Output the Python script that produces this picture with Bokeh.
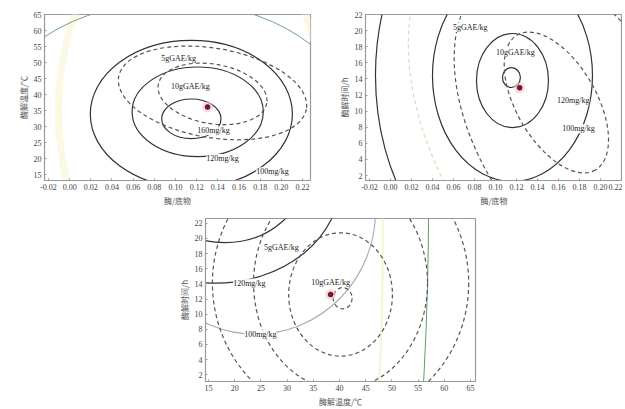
from bokeh.plotting import figure
from bokeh.models import ColumnDataSource, FixedTicker, Label, Range1d
from bokeh.layouts import column, row, Spacer
from bokeh.core.properties import value
from bokeh.embed import file_html
from bokeh.resources import INLINE

# ---------------- data: panel a (enzyme/substrate vs temperature) ----------------
A_X_TICKS = [-0.02, 0.00, 0.02, 0.04, 0.06, 0.08, 0.10, 0.12, 0.14, 0.16, 0.18, 0.20, 0.22]
A_Y_TICKS = [15, 20, 25, 30, 35, 40, 45, 50, 55, 60, 65]
A_MG_X = [0.115, 0.121, 0.115]
A_MG_Y = [32.4, 34.6, 33.9]
A_MG_W = [0.056, 0.124, 0.191]
A_MG_H = [12.4, 28.0, 46.0]
A_GAE_X = [0.135, 0.135]
A_GAE_Y = [40.2, 40.5]
A_GAE_W = [0.104, 0.180]
A_GAE_H = [18.6, 27.9]
A_GAE_ANG = [-0.17, -0.17]
A_GREEN_X = [0.097]
A_GREEN_Y = [31.8]
A_GREEN_W = [0.340]
A_GREEN_H = [74.5]
A_YEL_X = [0.114]
A_YEL_Y = [34.9]
A_YEL_W = [0.2495]
A_YEL_H = [124.0]
A_LABELS = ["5gGAE/kg", "10gGAE/kg", "160mg/kg", "120mg/kg", "100mg/kg"]
A_LAB_X = [0.1029, 0.114, 0.136, 0.1445, 0.1917]
A_LAB_Y = [51.3, 42.6, 28.7, 20.0, 15.9]
A_OPT_X = [0.1303]
A_OPT_Y = [36.1]

# ---------------- data: panel b (enzyme/substrate vs time) ----------------
B_X_TICKS = [-0.02, 0.00, 0.02, 0.04, 0.06, 0.08, 0.10, 0.12, 0.14, 0.16, 0.18, 0.20, 0.22]
B_Y_TICKS = [2, 4, 6, 8, 10, 12, 14, 16, 18, 20, 22]
B_MG_X = [0.1152, 0.1162, 0.1162, 0.1162]
B_MG_Y = [14.17, 13.8, 14.42, 14.42]
B_MG_W = [0.0171, 0.0686, 0.1524, 0.261]
B_MG_H = [2.48, 11.68, 26.3, 49.7]
B_GAE_X = [0.158, 0.1762]
B_GAE_Y = [11.07, 8.21]
B_GAE_W = [0.1486, 0.3238]
B_GAE_H = [9.94, 24.84]
B_GAE_ANG = [-1.047, -1.047]
B_PALE_X = [0.1762]
B_PALE_Y = [7.59]
B_PALE_W = [0.438]
B_PALE_H = [34.8]
B_PALE_ANG = [-1.047]
B_LABELS = ["5gGAE/kg", "10gGAE/kg", "120mg/kg", "100mg/kg"]
B_LAB_X = [0.076, 0.119, 0.174, 0.179]
B_LAB_Y = [20.4, 17.3, 11.3, 7.8]
B_OPT_X = [0.123]
B_OPT_Y = [12.9]

# ---------------- data: panel c (temperature vs time) ----------------
C_X_TICKS = [15, 20, 25, 30, 35, 40, 45, 50, 55, 60, 65]
C_Y_TICKS = [2, 4, 6, 8, 10, 12, 14, 16, 18, 20, 22]
C_MG_X = [40.6, 40.2, 40.2, 40.2]
C_MG_Y = [12.1, 12.6, 14.1, 14.1]
C_MG_W = [3.6, 19.8, 33.2, 48.9]
C_MG_H = [2.8, 16.3, 28.0, 35.7]
C_GAE_X = [18.2, 16.3]
C_GAE_Y = [28.75, 27.5]
C_GAE_W = [30.5, 47.7]
C_GAE_H = [18.6, 26.8]
C_GRAY_X = [23.97]
C_GRAY_Y = [23.66]
C_GRAY_W = [45.8]
C_GRAY_H = [32.6]
C_GREEN_X = [13.5]
C_GREEN_Y = [24.9]
C_GREEN_W = [87.0]
C_GREEN_H = [229.0]
C_YEL_X = [13.5]
C_YEL_Y = [18.6]
C_YEL_W = [69.5]
C_YEL_H = [178.0]
C_LABELS = ["5gGAE/kg", "10gGAE/kg", "120mg/kg", "100mg/kg"]
C_LAB_X = [28.9, 38.3, 22.8, 24.9]
C_LAB_Y = [18.8, 14.2, 14.1, 7.35]
C_OPT_X = [38.3]
C_OPT_Y = [12.6]

SERIF = "Liberation Serif"
CJK = "Noto Sans CJK SC"
DARK = "#333333"
DASH = "#555555"


def make_fig(w, h, xr, yr, bl, br, bt, bb, xticks, yticks, xfmt, xlabel, ylabel):
    p = figure(width=w, height=h, x_range=Range1d(*xr), y_range=Range1d(*yr),
               output_backend="svg", toolbar_location=None,
               min_border_left=bl, min_border_right=br, min_border_top=bt, min_border_bottom=bb)
    p.xgrid.visible = False
    p.ygrid.visible = False
    p.outline_line_color = "#9a9a9a"
    p.outline_line_width = 1.2
    p.background_fill_color = "white"
    p.xaxis.ticker = FixedTicker(ticks=xticks)
    p.yaxis.ticker = FixedTicker(ticks=yticks)
    p.xaxis.major_label_overrides = {t: xfmt(t) for t in xticks}
    p.yaxis.major_label_overrides = {t: str(t) for t in yticks}
    for ax in (p.xaxis[0], p.yaxis[0]):
        ax.axis_line_color = "#9a9a9a"
        ax.major_tick_line_color = "#9a9a9a"
        ax.major_tick_in = 2
        ax.major_tick_out = 0
        ax.minor_tick_line_color = None
        ax.major_label_text_font = SERIF
        ax.major_label_text_font_size = "8px"
        ax.major_label_text_color = "#444444"
        ax.major_label_standoff = 3
        ax.axis_label_text_font = CJK
        ax.axis_label_text_font_size = "8px"
        ax.axis_label_text_font_style = "normal"
        ax.axis_label_text_color = "#555555"
        ax.axis_label_standoff = 2
    p.xaxis.axis_label = xlabel
    p.yaxis.axis_label = ylabel
    return p


def ell(p, xs, ys, ws, hs, angles=None, color=DARK, dash="solid", width=1.1, alpha=1.0):
    if angles is None:
        angles = [0.0] * len(xs)
    src = ColumnDataSource(dict(x=xs, y=ys, w=ws, h=hs, a=angles))
    p.ellipse(x="x", y="y", width="w", height="h", angle="a", source=src,
              fill_color=None, line_color=color, line_dash=dash, line_width=width, line_alpha=alpha)


def labels(p, xs, ys, texts):
    src = ColumnDataSource(dict(x=xs, y=ys, t=texts))
    p.text(x="x", y="y", text="t", source=src, text_font=value(SERIF), text_font_size="8px",
           text_color="#222222", text_align="center", text_baseline="middle",
           background_fill_color="white", background_fill_alpha=0.9)


def optimum(p, xs, ys):
    p.scatter(xs, ys, size=11, fill_color="#f7c3cf", line_color=None, fill_alpha=0.6)
    p.scatter(xs, ys, size=5, fill_color="#7a1526", line_color="#3a0a12", line_width=0.5)


fmt2 = lambda t: "%.2f" % t
fmtint = lambda t: str(t)

# ---------------- panel a ----------------
pa = make_fig(322, 210, (-0.02378, 0.2276), (13.14, 65.0), 44, 12, 13, 30,
              A_X_TICKS, A_Y_TICKS, fmt2, "酶/底物", "酶解温度/℃")
ell(pa, A_YEL_X, A_YEL_Y, A_YEL_W, A_YEL_H, color="#faf6dc", width=7, alpha=0.8)
ell(pa, A_GREEN_X, A_GREEN_Y, A_GREEN_W, A_GREEN_H, color="#6f9f86", width=1.0)
ell(pa, A_MG_X, A_MG_Y, A_MG_W, A_MG_H, color=DARK, width=1.2)
ell(pa, A_GAE_X, A_GAE_Y, A_GAE_W, A_GAE_H, A_GAE_ANG, color=DASH, dash="4 3", width=1.2)
labels(pa, A_LAB_X, A_LAB_Y, A_LABELS)
optimum(pa, A_OPT_X, A_OPT_Y)
pa.add_layout(Label(x=-0.046, y=64.0, text="a", text_font=SERIF, text_font_size="8px",
                    text_color="#444444", text_baseline="middle", text_align="center"))

# ---------------- panel b ----------------
pb = make_fig(300, 210, (-0.0238, 0.221), (1.38, 22.0), 43, 0, 14, 30,
              B_X_TICKS, B_Y_TICKS, fmt2, "酶/底物", "酶解时间/h")
ell(pb, B_PALE_X, B_PALE_Y, B_PALE_W, B_PALE_H, B_PALE_ANG, color="#dcdcb8", dash="4 3", width=1.2)
ell(pb, B_MG_X, B_MG_Y, B_MG_W, B_MG_H, color=DARK, width=1.2)
ell(pb, B_GAE_X, B_GAE_Y, B_GAE_W, B_GAE_H, B_GAE_ANG, color=DASH, dash="4 3", width=1.2)
labels(pb, B_LAB_X, B_LAB_Y, B_LABELS)
optimum(pb, B_OPT_X, B_OPT_Y)
pb.add_layout(Label(x=-0.0467, y=21.9, text="b", text_font=SERIF, text_font_size="8px",
                    text_color="#444444", text_baseline="middle", text_align="center"))

# ---------------- panel c ----------------
pc = make_fig(320, 199, (14.43, 65.95), (1.1, 22.64), 40, 10, 8, 22,
              C_X_TICKS, C_Y_TICKS, fmtint, "酶解温度/℃", "酶解时间/h")
ell(pc, C_YEL_X, C_YEL_Y, C_YEL_W, C_YEL_H, color="#f3f4d0", width=2)
ell(pc, C_GREEN_X, C_GREEN_Y, C_GREEN_W, C_GREEN_H, color="#5e9f62", width=1.0)
ell(pc, C_GRAY_X, C_GRAY_Y, C_GRAY_W, C_GRAY_H, color="#a8aca8", width=1.1)
ell(pc, C_GAE_X, C_GAE_Y, C_GAE_W, C_GAE_H, color=DARK, width=1.2)
ell(pc, C_MG_X, C_MG_Y, C_MG_W, C_MG_H, color=DASH, dash="4 3", width=1.2)
labels(pc, C_LAB_X, C_LAB_Y, C_LABELS)
optimum(pc, C_OPT_X, C_OPT_Y)
pc.add_layout(Label(x=9.7, y=22.5, text="c", text_font=SERIF, text_font_size="8px",
                    text_color="#444444", text_baseline="middle", text_align="center"))

layout = column(row(pa, pb), row(Spacer(width=165, height=199), pc))

open("out.html", "w").write(file_html(layout, INLINE))
